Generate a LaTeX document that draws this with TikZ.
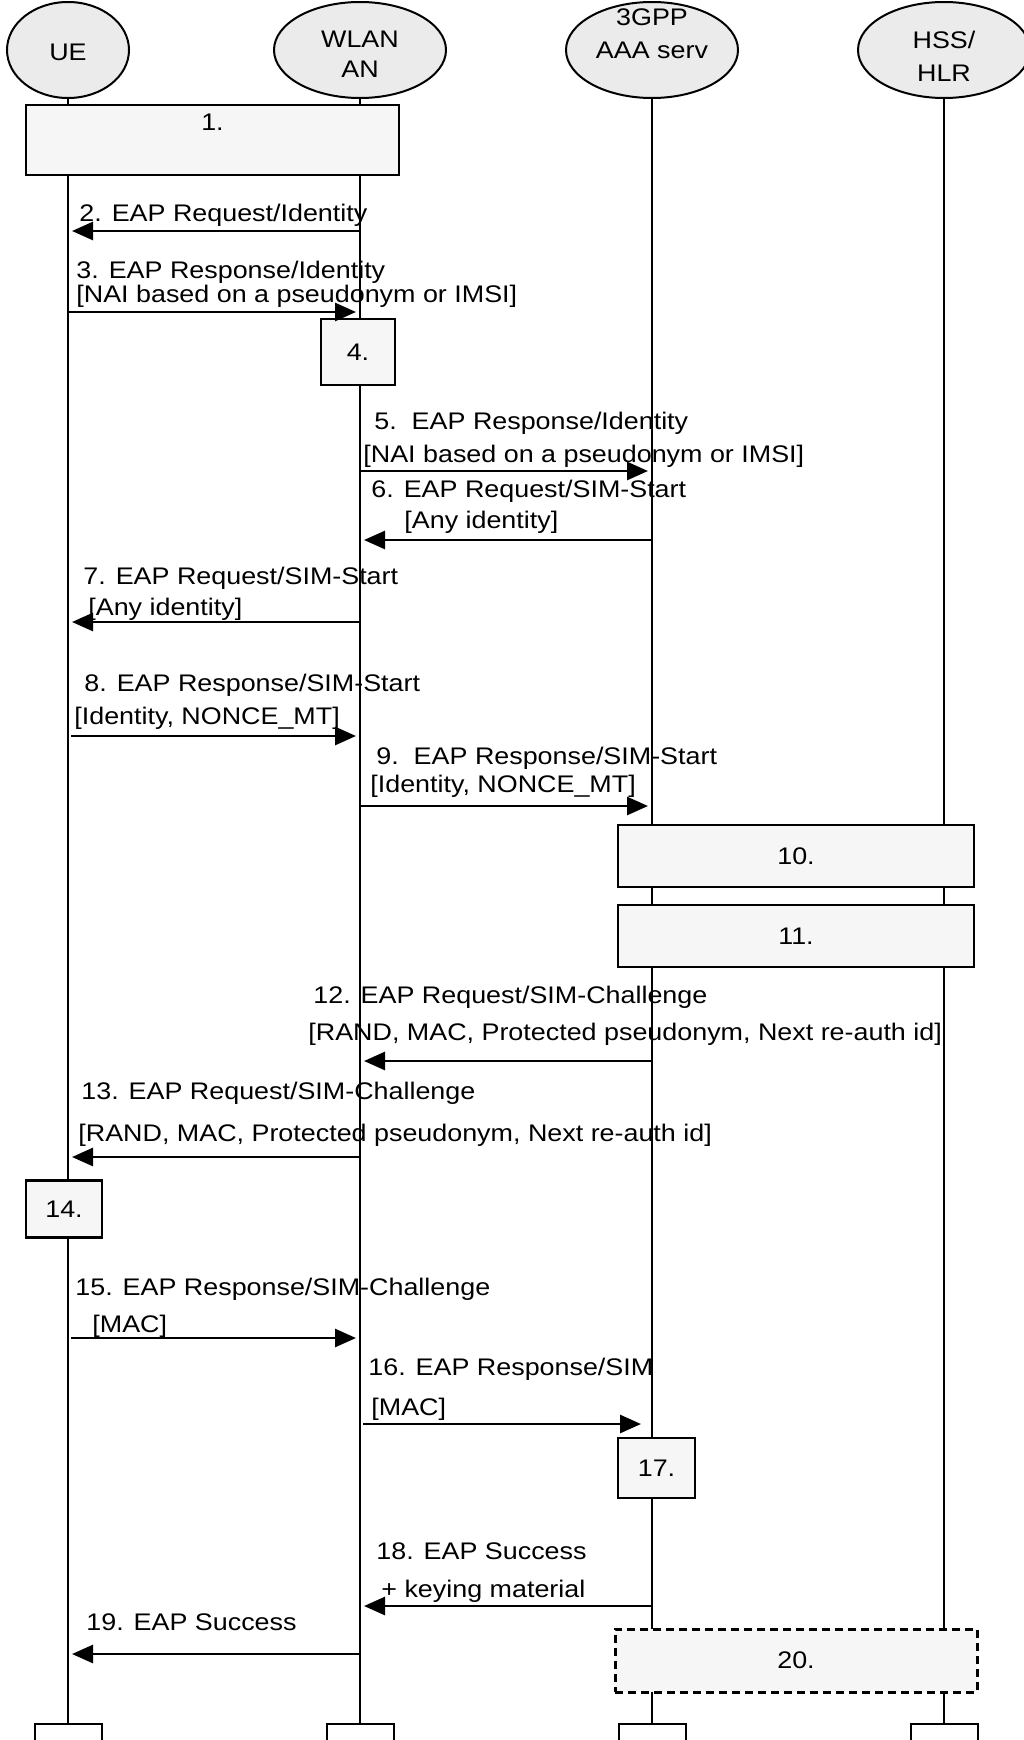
\documentclass[tikz,border=0pt]{standalone}
\usepackage{fontspec}
\setmainfont{Liberation Sans}[FakeStretch=1.12]
\usetikzlibrary{arrows.meta,positioning,shapes.geometric}

\definecolor{headfill}{HTML}{EBEBEB}
\definecolor{boxfill}{HTML}{F6F6F6}

\begin{document}
\begin{tikzpicture}[x=0.5pt,y=-0.5pt,->,>={Triangle[length=10.5pt,width=9pt]},
	shorten >=2pt,line width=1.4pt,node distance=146pt,
	font=\fontsize{12}{14}\selectfont,
	head node/.style={ellipse,draw,line width=1pt,fill=headfill,minimum width=86pt,
		minimum height=48pt,inner sep=0pt},
	head text/.style={align=center,font=\fontsize{12}{15}\selectfont},
	end node/.style={rectangle,draw,line width=1pt,fill=white,minimum width=33.5pt,
		minimum height=17pt,anchor=north},
	life line/.style={-,shorten >=0pt,line width=1pt},
	proc box/.style={rectangle,draw,line width=1.3pt,fill=boxfill,inner sep=0pt},
	msg label/.style={anchor=west,inner sep=0pt,align=left}]

	\useasboundingbox (0,0) rectangle (1023,1740);

	% entities
	\node[head node,minimum width=61pt,
		label={[head text,yshift=-1pt]center:UE}] (ue) at (68,50) {};
	\node[head node,label={[head text,yshift=-2pt]center:WLAN\\AN}] (wlan) [right of=ue] {};
	\node[head node,label={[head text,yshift=8.25pt]center:3GPP\\[1.5pt]AAA serv}] (aaa) [right of=wlan] {};
	\node[head node,label={[head text,yshift=-3.25pt]center:HSS/\\[1.5pt]HLR}] (hss) [right of=aaa] {};

	\node[end node] (ueend) at (ue |- 0,1723) {};
	\node[end node] (wlanend) at (wlan |- 0,1723) {};
	\node[end node] (aaaend) at (aaa |- 0,1723) {};
	\node[end node] (hssend) at (hss |- 0,1723) {};

	\draw[life line] (ue) -- (ueend);
	\draw[life line] (wlan) -- (wlanend);
	\draw[life line] (aaa) -- (aaaend);
	\draw[life line] (hss) -- (hssend);

	% procedure boxes
	\node[proc box,minimum width=186.5pt,minimum height=35pt,
		label={[anchor=north,inner sep=0pt,yshift=-4.5pt]north:1.}] (b1) at (212.5,140) {};
	\node[proc box,minimum width=37pt,minimum height=33pt] (b4) at (358,352) {4.};
	\node[proc box,minimum width=178pt,minimum height=31pt] (b10) at (796,856) {10.};
	\node[proc box,minimum width=178pt,minimum height=31pt] (b11) at (796,936) {11.};
	\node[proc box,minimum width=38pt,minimum height=28.5pt] (b14) at (64,1209) {14.};
	\node[proc box,minimum width=38.5pt,minimum height=30pt] (b17) at (656.5,1468) {17.};
	\node[proc box,dashed,dash pattern=on 4pt off 2.5pt,line width=1.5pt,
		minimum width=181pt,minimum height=31.5pt] (b20) at (796,1660.5) {20.};

	% messages
	\draw (wlan |- 0,231) -- (ue |- 0,231);
	\node[msg label] (l2) at (78,215) {2. EAP Request/Identity};

	\draw (ue |- 0,312) -- (wlan |- 0,312);
	\node[msg label] (l3) at (75,284) {3. EAP Response/Identity\\[-2pt]{}[NAI based on a pseudonym or IMSI]};

	\draw (wlan |- 0,471) -- (aaa |- 0,471);
	\node[msg label] (l5) at (362,440) {\hspace*{5.5pt}5.~~EAP Response/Identity\\[2.5pt]{}[NAI based on a pseudonym or IMSI]};

	\draw (aaa |- 0,540) -- (wlan |- 0,540);
	\node[msg label] (l6) at (370,506.5) {6. EAP Request/SIM-Start\\[1.5pt]\hspace*{16.5pt}[Any identity]};

	\draw (wlan |- 0,622) -- (ue |- 0,622);
	\node[msg label] (l7) at (82,593.5) {7. EAP Request/SIM-Start\\[1.5pt]\hspace*{2.5pt}[Any identity]};

	\draw[shorten <=1.5pt] (ue |- 0,736) -- (wlan |- 0,736);
	\node[msg label] (l8) at (73,702) {\hspace*{5pt}8. EAP Response/SIM-Start\\[2.5pt]{}[Identity, NONCE\_MT]};

	\draw (wlan |- 0,806) -- (aaa |- 0,806);
	\node[msg label] (l9) at (369,772) {\hspace*{3pt}9.~~EAP Response/SIM-Start\\[0pt]{}[Identity, NONCE\_MT]};

	\draw (aaa |- 0,1061) -- (wlan |- 0,1061);
	\node[msg label] (l12) at (307,1016) {\hspace*{2.5pt}12. EAP Request/SIM-Challenge\\[4.5pt]{}[RAND, MAC, Protected pseudonym, Next re-auth id]};

	\draw (wlan |- 0,1157) -- (ue |- 0,1157);
	\node[msg label] (l13) at (77,1114) {\hspace*{1.5pt}13. EAP Request/SIM-Challenge\\[7pt]{}[RAND, MAC, Protected pseudonym, Next re-auth id]};

	\draw[shorten <=1.5pt] (ue |- 0,1338) -- (wlan |- 0,1338);
	\node[msg label] (l15) at (74,1307.5) {15. EAP Response/SIM-Challenge\\[4.5pt]\hspace*{8.5pt}[MAC]};

	\draw[shorten <=1.5pt,shorten >=5.5pt] (wlan |- 0,1424) -- (aaa |- 0,1424);
	\node[msg label] (l16) at (367,1389) {16. EAP Response/SIM\\[6pt]\hspace*{1.5pt}[MAC]};

	\draw (aaa |- 0,1606) -- (wlan |- 0,1606);
	\node[msg label] (l18) at (375,1573) {18. EAP Success\\[5pt]\hspace*{2.5pt}+ keying material};

	\draw (wlan |- 0,1654) -- (ue |- 0,1654);
	\node[msg label] (l19) at (85,1622) {19. EAP Success};
\end{tikzpicture}
\end{document}
